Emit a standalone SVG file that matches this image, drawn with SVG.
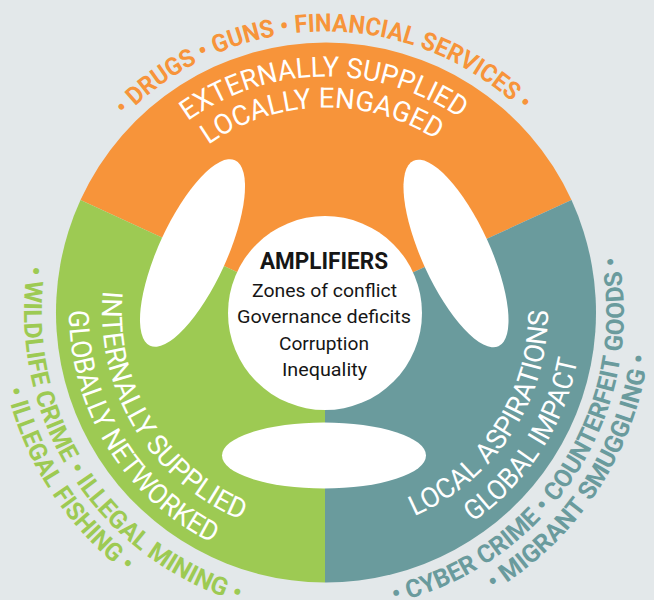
<svg xmlns="http://www.w3.org/2000/svg" width="654" height="600" viewBox="0 0 654 600">
<style>
.lab{font-family:Roboto,"Liberation Sans",sans-serif;font-size:28px;font-weight:400;fill:#ffffff;}
.out{font-family:Roboto,"Liberation Sans",sans-serif;font-size:25px;font-weight:700;}
.ctr{font-family:Roboto,"Liberation Sans",sans-serif;fill:#161616;}
.hole{fill:#ffffff;}
</style>
<defs>
<path id="p-o1" d="M124.9,116.2 A281,281 0 0 1 541.2,131.9"/>
<path id="p-o2" d="M187.9,121.1 A236,236 0 0 1 477.7,131.7"/>
<path id="p-o3" d="M208.3,144.7 A205,205 0 0 1 457.8,155.5"/>
<path id="p-g1" d="M103.1,290.6 A224,224 0 0 0 287.1,533.1"/>
<path id="p-g2" d="M69,310.3 A257,257 0 0 0 281.4,565.6"/>
<path id="p-g3" d="M27.7,265.3 A302,302 0 0 0 299.7,613.3"/>
<path id="p-g4" d="M6.6,389.2 A328.5,328.5 0 0 0 213.6,621.2"/>
<path id="p-t1" d="M414.2,516.2 A222,222 0 0 0 544.6,274.0"/>
<path id="p-t2" d="M472.8,522.2 A256,256 0 0 0 578.1,268.0"/>
<path id="p-t3" d="M394.0,602.6 A298,298 0 0 0 606.0,210.6"/>
<path id="p-t4" d="M493.7,590.9 A325,325 0 0 0 649.8,284.2"/>
</defs>
<rect width="654" height="600" fill="#E3E8EA"/>

<g id="externally-supplied">
<path d="M325,312.5 L80.5,200.1 A270,270 0 0 1 571.5,200.1 Z" fill="#F7943A"/>
<text class="lab"><textPath href="#p-o2" textLength="290" lengthAdjust="spacingAndGlyphs">EXTERNALLY SUPPLIED</textPath></text>
<text class="lab"><textPath href="#p-o3" textLength="242" lengthAdjust="spacingAndGlyphs">LOCALLY ENGAGED</textPath></text>
<text class="out" fill="#F7943A"><textPath href="#p-o1" textLength="441" lengthAdjust="spacingAndGlyphs">• DRUGS • GUNS • FINANCIAL SERVICES •</textPath></text>
</g>

<g id="local-aspirations">
<path d="M325,312.5 L571.5,200.1 A270,270 0 0 1 325,582.5 Z" fill="#6A9B9D"/>
<text class="out" fill="#6A9B9D"><textPath href="#p-t3" textLength="456" lengthAdjust="spacingAndGlyphs">• CYBER CRIME • COUNTERFEIT GOODS •</textPath></text>
<text class="out" fill="#6A9B9D"><textPath href="#p-t4" textLength="291" lengthAdjust="spacingAndGlyphs">• MIGRANT SMUGGLING •</textPath></text>
</g>

<g id="internally-supplied">
<path d="M325,312.5 L325,582.5 A270,270 0 0 1 80.5,200.1 Z" fill="#9DCA53"/>
<text class="out" fill="#9DCA53"><textPath href="#p-g3" textLength="433" lengthAdjust="spacingAndGlyphs">• WILDLIFE CRIME • ILLEGAL MINING •</textPath></text>
<text class="out" fill="#9DCA53"><textPath href="#p-g4" textLength="223" lengthAdjust="spacingAndGlyphs">• ILLEGAL FISHING •</textPath></text>
</g>

<g id="holes">
<ellipse class="hole" cx="0" cy="0" rx="102" ry="34" transform="translate(192.5 253) rotate(-65.4)"/>
<ellipse class="hole" cx="0" cy="0" rx="102" ry="34" transform="translate(456 253.5) rotate(65.4)"/>
<ellipse class="hole" cx="324" cy="455.5" rx="102" ry="33"/>
</g>

<g id="labels-inner">
<text class="lab"><textPath href="#p-g1" textLength="287" lengthAdjust="spacingAndGlyphs">INTERNALLY SUPPLIED</textPath></text>
<text class="lab"><textPath href="#p-g2" textLength="288" lengthAdjust="spacingAndGlyphs">GLOBALLY NETWORKED</textPath></text>
<text class="lab"><textPath href="#p-t1" textLength="260" lengthAdjust="spacingAndGlyphs">LOCAL ASPIRATIONS</textPath></text>
<text class="lab"><textPath href="#p-t2" textLength="198" lengthAdjust="spacingAndGlyphs">GLOBAL IMPACT</textPath></text>
</g>

<g id="amplifiers">
<circle cx="325" cy="313" r="97" fill="#ffffff"/>
<text class="ctr" x="260" y="268.5" font-size="23.5" font-weight="700" textLength="128" lengthAdjust="spacingAndGlyphs">AMPLIFIERS</text>
<text class="ctr" x="252" y="296.5" font-size="19" textLength="145" lengthAdjust="spacingAndGlyphs">Zones of conflict</text>
<text class="ctr" x="237" y="323" font-size="19" textLength="174" lengthAdjust="spacingAndGlyphs">Governance deficits</text>
<text class="ctr" x="279" y="349.5" font-size="19" textLength="90" lengthAdjust="spacingAndGlyphs">Corruption</text>
<text class="ctr" x="282" y="376" font-size="19" textLength="85" lengthAdjust="spacingAndGlyphs">Inequality</text>
</g>
</svg>
